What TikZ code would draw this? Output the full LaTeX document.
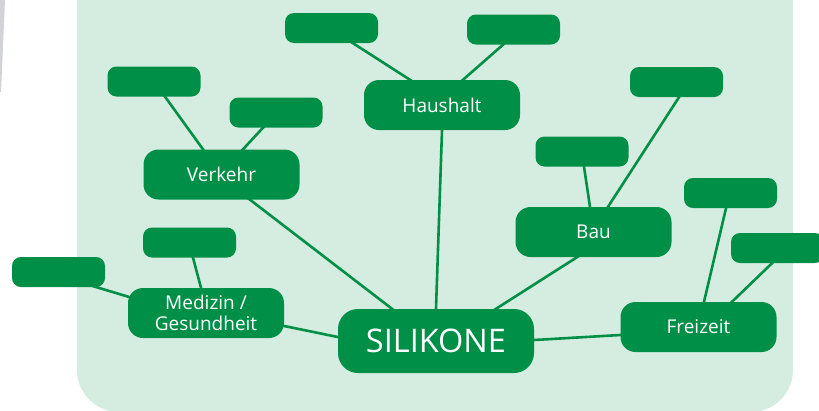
\documentclass[tikz,border=0pt]{standalone}
\usepackage{fontspec}
\setmainfont{Open Sans}
\definecolor{boxgreen}{HTML}{008F47}
\definecolor{panelgreen}{HTML}{D5EDE1}
\definecolor{stripgrey}{HTML}{D2D3D6}
\pgfdeclarelayer{back}
\pgfdeclarelayer{linkbg}
\pgfsetlayers{back,linkbg,main}
\begin{document}
\begin{tikzpicture}[x=1pt,y=-1pt,
  box/.style={fill=boxgreen, text=white, rounded corners=9pt, minimum width=93pt, minimum height=30pt, inner sep=0pt},
  mid/.style={box, rounded corners=15pt, minimum width=156pt, minimum height=50pt, font=\fontsize{19}{21}\selectfont, align=center},
  hub/.style={box, rounded corners=20pt, minimum width=196pt, minimum height=64pt, font=\fontsize{32.5}{36}\selectfont},
  link/.style={draw=boxgreen, line width=2.6pt, shorten <=-4pt, shorten >=-4pt}]
\useasboundingbox (0,0) rectangle (819,410);
\begin{pgfonlayer}{back}
  \fill[panelgreen, rounded corners=42pt] (77,-100) rectangle (793,412);
  \fill[stripgrey] (0,0) -- (5,0) -- (1,92) -- (0,92) -- cycle;
\end{pgfonlayer}
% central
\node[hub] (sil) at (436,341) {SILIKONE};
% main branches
\node[mid] (verkehr) at (221.5,174.5) {Verkehr};
\node[mid] (haushalt) at (442,105) {Haushalt};
\node[mid] (bau) at (593.5,232) {Bau};
\node[mid] (freizeit) at (698.5,327) {Freizeit};
\node[mid] (medizin) at (206,313) {Medizin /\\Gesundheit};
% leaves
\node[box] (v1) at (154,81.5) {};
\node[box] (v2) at (276,112.5) {};
\node[box] (h1) at (331.5,28) {};
\node[box] (h2) at (513.5,29.5) {};
\node[box] (b1) at (582,151.5) {};
\node[box] (b2) at (676.5,82) {};
\node[box] (f1) at (730.5,193) {};
\node[box] (f2) at (777.5,248) {};
\node[box] (m1) at (189.5,242.5) {};
\node[box] (m2) at (58.5,272) {};
\begin{pgfonlayer}{linkbg}
  \draw[link] ([xshift=11pt]v1.south) -- ([xshift=-18.5pt]verkehr.north);
  \draw[link] ([xshift=-13pt]v2.south) -- ([xshift=21.5pt]verkehr.north);
  \draw[link] ([xshift=21.5pt]h1.south) -- ([xshift=-32pt]haushalt.north);
  \draw[link] ([xshift=-10.5pt]h2.south) -- ([xshift=21pt]haushalt.north);
  \draw[link] (haushalt.south) -- (sil.north);
  \draw[link] ([xshift=28.5pt]verkehr.south) -- ([xshift=-44pt]sil.north);
  \draw[link] ([xshift=2pt]b1.south) -- ([xshift=-3.5pt]bau.north);
  \draw[link] ([xshift=2.5pt]b2.south) -- ([xshift=14.5pt]bau.north);
  \draw[link] ([xshift=-16.5pt]bau.south) -- ([xshift=60pt]sil.north);
  \draw[link] ([xshift=-4.5pt]f1.south) -- ([xshift=5.5pt]freizeit.north);
  \draw[link] ([xshift=-5.5pt]f2.south) -- ([xshift=33.5pt]freizeit.north);
  \draw[link] ([yshift=-8pt]freizeit.west) -- ([yshift=1pt]sil.east);
  \draw[link] ([xshift=3.5pt]m1.south) -- ([xshift=-5pt]medizin.north);
  \draw[link] ([xshift=31.5pt,yshift=2pt]m2.south) -- ([xshift=8pt,yshift=14pt]medizin.west);
  \draw[link] ([yshift=-13pt]medizin.east) -- ([yshift=4pt]sil.west);
\end{pgfonlayer}
\end{tikzpicture}
\end{document}
